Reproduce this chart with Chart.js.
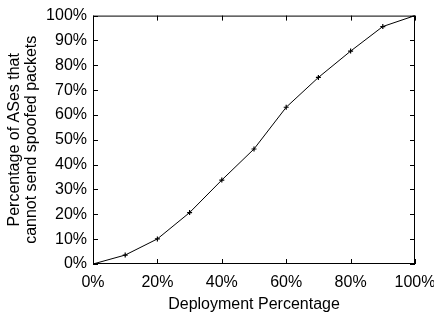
<!DOCTYPE html>
<html>
<head>
<meta charset="utf-8">
<script src="https://cdn.jsdelivr.net/npm/chart.js@4"></script>
<style>
  html, body { margin: 0; padding: 0; background: #fff; }
  #wrap { width: 434px; height: 314px; }
</style>
</head>
<body>
<div id="wrap"><canvas id="chart" width="434" height="314"></canvas></div>
<script>
// deployment percentage (x) and share of ASes that cannot spoof (y)
const deployment = [0, 10, 20, 30, 40, 50, 60, 70, 80, 90, 100];
const protectedShare = [0, 3.6, 10.1, 20.7, 33.8, 46.3, 63.1, 75.1, 85.7, 95.6, 100];
const xTitle = 'Deployment Percentage';
const yTitle = ['Percentage of ASes that', 'cannot send spoofed packets'];

Chart.defaults.font.family = '"Liberation Sans", Arial, sans-serif';
Chart.defaults.color = '#000';

// gnuplot-style frame with inward ticks mirrored on all sides
const frame = {
  id: 'frame',
  afterDatasetsDraw(chart) {
    const { ctx, chartArea: a, scales } = chart;
    ctx.save();
    ctx.strokeStyle = '#000';
    ctx.lineWidth = 1;
    ctx.strokeRect(a.left + 0.5, a.top + 0.5, a.right - a.left - 1, a.bottom - a.top - 1);
    ctx.beginPath();
    const len = 5;
    scales.x.ticks.forEach(t => {
      const px = Math.round(scales.x.getPixelForValue(t.value)) + 0.5;
      ctx.moveTo(px, a.bottom); ctx.lineTo(px, a.bottom - len);
      ctx.moveTo(px, a.top); ctx.lineTo(px, a.top + len);
    });
    scales.y.ticks.forEach(t => {
      const py = Math.round(scales.y.getPixelForValue(t.value)) + 0.5;
      ctx.moveTo(a.left, py); ctx.lineTo(a.left + len, py);
      ctx.moveTo(a.right, py); ctx.lineTo(a.right - len, py);
    });
    ctx.stroke();
    ctx.restore();
  }
};

new Chart(document.getElementById('chart'), {
  type: 'line',
  data: {
    datasets: [{
      data: deployment.map((d, i) => ({ x: d, y: protectedShare[i] })),
      borderColor: '#000',
      borderWidth: 1,
      pointStyle: 'cross',
      pointRadius: 2.5,
      pointBorderWidth: 1.2,
      pointBorderColor: '#000',
      tension: 0,
      fill: false
    }]
  },
  options: {
    responsive: false,
    animation: false,
    layout: { padding: { top: 13, right: 19, left: 0, bottom: 0 } },
    plugins: { legend: { display: false }, tooltip: { enabled: false } },
    scales: {
      x: {
        type: 'linear',
        min: 0, max: 100,
        grid: { display: false, drawTicks: false },
        border: { display: false },
        ticks: { stepSize: 20, font: { size: 16 }, padding: 9, maxRotation: 0, callback: v => v + '%' },
        title: { display: true, text: xTitle, font: { size: 16 }, padding: { top: 4, bottom: 0 } },
        afterFit(s) { s.height = 50; s.paddingRight = 0; }
      },
      y: {
        min: 0, max: 100,
        grid: { display: false, drawTicks: false },
        border: { display: false },
        ticks: { stepSize: 10, font: { size: 16 }, padding: 6, callback: v => v + '%' },
        title: { display: true, text: yTitle, font: { size: 16, lineHeight: 1.05 }, padding: { top: 6, bottom: 0 } },
        afterFit(s) { s.width = 93; }
      }
    }
  },
  plugins: [frame]
});
</script>
</body>
</html>
